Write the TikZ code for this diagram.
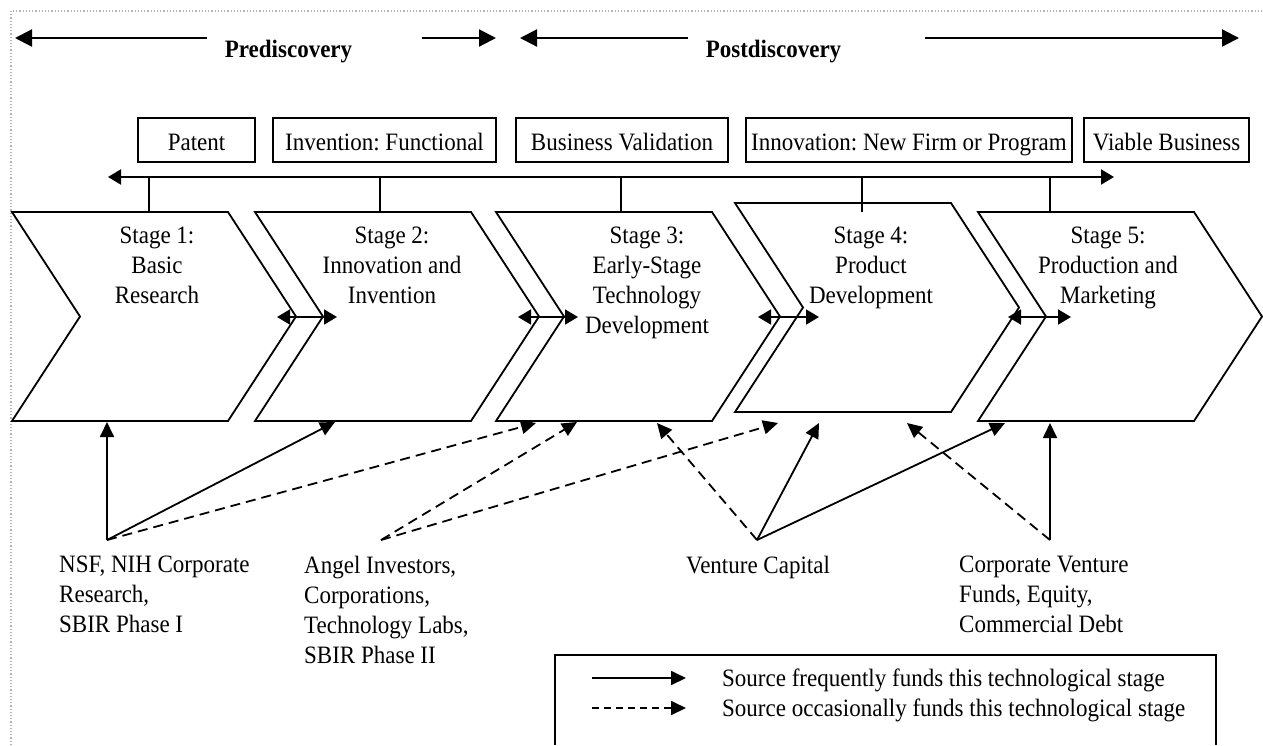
\documentclass[tikz,border=0pt]{standalone}
\usepackage{fontspec}
\setmainfont{Liberation Serif}[FakeStretch=0.92]
\usetikzlibrary{arrows.meta}
\frenchspacing
\newcommand\mychev[3]{%
  \draw[chev] (#1,#2) -- ++(216,0) -- ++(68,{(#3-#2)/2}) -- ++(-68,{(#3-#2)/2})
    -- ++(-216,0) -- ++(68,{-(#3-#2)/2}) -- cycle;}
\begin{document}
\begin{tikzpicture}[x=1pt,y=-1pt,
  font=\fontsize{25}{30}\selectfont,
  chev/.style={draw, line width=1.8pt, line join=miter},
  tip/.style={-{Triangle[length=15pt,width=14pt]}},
  fund/.style={line width=1.8pt, tip},
  occ/.style={fund, dash pattern=on 10pt off 6pt},
  dblarr/.style={line width=1.8pt, {Triangle[length=13pt,width=15pt]}-{Triangle[length=13pt,width=15pt]}},
  toparr/.style={line width=2.2pt, -{Triangle[length=17pt,width=17pt]}},
  tick/.style={line width=1.5pt},
  tag/.style={draw, line width=1.5pt, inner sep=0pt, minimum height=44pt, text height=20pt, text depth=0pt},
  stagetxt/.style={align=center, inner sep=0pt, anchor=north},
  srctxt/.style={align=left, inner sep=0pt, anchor=north west},
  frame/.style={gray!60, line width=1.2pt, dotted}
]
\useasboundingbox (0,0) rectangle (1263,745);

% frame
\coordinate (fTL) at (11,11);
\coordinate (fTR) at (1263,11);
\coordinate (fBL) at (11,745);
\draw[frame] (fBL) -- (fTL) -- (fTR);

% top phase arrows
\node[font=\fontsize{25}{30}\selectfont\bfseries, anchor=base, inner sep=0pt] (pre) at (288.5,57) {Prediscovery};
\node[font=\fontsize{25}{30}\selectfont\bfseries, anchor=base, inner sep=0pt] (post) at (773.5,57) {Postdiscovery};
\coordinate (preL) at (15,38);   \coordinate (preLs) at (207,38);
\coordinate (preRs) at (422,38); \coordinate (preR) at (496,38);
\coordinate (postL) at (520,38); \coordinate (postLs) at (688,38);
\coordinate (postRs) at (925,38);\coordinate (postR) at (1239,38);
\draw[toparr] (preLs) -- (preL);
\draw[toparr] (preRs) -- (preR);
\draw[toparr] (postLs) -- (postL);
\draw[toparr] (postRs) -- (postR);

% milestone boxes
\node[tag, minimum width=117pt] (patent) at (196.5,140) {Patent};
\node[tag, minimum width=223pt] (invent) at (384.5,140) {Invention: Functional};
\node[tag, minimum width=212pt] (bval) at (622,140) {Business Validation};
\node[tag, minimum width=326pt] (innov) at (909,140) {Innovation: New Firm or Program};
\node[tag, minimum width=165pt] (viable) at (1166.5,140) {Viable Business};

% timeline
\coordinate (tlL) at (108,177);
\coordinate (tlR) at (1114,177);
\draw[dblarr, line width=2pt] (tlL) -- (tlR);
\foreach \x/\n in {149/1,380/2,621/3,862/4,1050/5}{
  \coordinate (tk\n a) at (\x,177);
  \coordinate (tk\n b) at (\x,212);
  \draw[tick] (tk\n a) -- (tk\n b);
}

% chevrons
\mychev{12}{212}{421}
\mychev{255}{212}{421}
\mychev{496}{212}{421}
\mychev{735}{203}{412}
\mychev{978}{212}{421}

\node[stagetxt] (st1) at (157,227) {Stage 1:\\Basic\\Research};
\node[stagetxt] (st2) at (392,227) {Stage 2:\\Innovation and\\Invention};
\node[stagetxt] (st3) at (647,227) {Stage 3:\\Early-Stage\\Technology\\Development};
\node[stagetxt] (st4) at (871,227) {Stage 4:\\Product\\Development};
\node[stagetxt] (st5) at (1108,227) {Stage 5:\\Production and\\Marketing};

% links between stages
\coordinate (d12a) at (277,317);  \coordinate (d12b) at (337,317);
\coordinate (d23a) at (518,317);  \coordinate (d23b) at (578,317);
\coordinate (d34a) at (758,317);  \coordinate (d34b) at (819,317);
\coordinate (d45a) at (1008,317); \coordinate (d45b) at (1071,317);
\draw[dblarr] (d12a) -- (d12b);
\draw[dblarr] (d23a) -- (d23b);
\draw[dblarr] (d34a) -- (d34b);
\draw[dblarr] (d45a) -- (d45b);

% funding sources
\coordinate (nsf) at (107,540);
\coordinate (angel) at (381,540);
\coordinate (vc) at (757,540);
\coordinate (corp) at (1050,540);

\coordinate (s1a) at (107,422);
\coordinate (s2a) at (335,422);
\coordinate (s3a) at (536,423);
\coordinate (s3b) at (577,422);
\coordinate (s3c) at (657,423);
\coordinate (s4a) at (778,423);
\coordinate (s4b) at (819,423);
\coordinate (s4c) at (907,423);
\coordinate (s5a) at (1005,423);
\coordinate (s5b) at (1050,423);

\draw[fund] (nsf) -- (s1a);
\draw[fund] (nsf) -- (s2a);
\draw[occ] (nsf) -- (s3a);
\draw[occ] (angel) -- (s3b);
\draw[occ] (angel) -- (s4a);
\draw[occ] (vc) -- (s3c);
\draw[fund] (vc) -- (s4b);
\draw[fund] (vc) -- (s5a);
\draw[occ] (corp) -- (s4c);
\draw[fund] (corp) -- (s5b);

\node[srctxt] (nsfT) at (59,556) {NSF, NIH Corporate\\Research,\\SBIR Phase I};
\node[srctxt] (angelT) at (304,556) {Angel Investors,\\Corporations,\\Technology Labs,\\SBIR Phase II};
\node[srctxt] (vcT) at (686,556) {Venture Capital};
\node[srctxt] (corpT) at (959,556) {Corporate Venture\\Funds, Equity,\\Commercial Debt};

% legend
\coordinate (lgBL) at (555,745);
\coordinate (lgTL) at (555,655);
\coordinate (lgTR) at (1216,655);
\coordinate (lgBR) at (1216,745);
\draw[line width=1.5pt] (lgBL) -- (lgTL) -- (lgTR) -- (lgBR);
\coordinate (lg1a) at (592,678); \coordinate (lg1b) at (686,678);
\coordinate (lg2a) at (592,708); \coordinate (lg2b) at (686,708);
\draw[fund] (lg1a) -- (lg1b);
\draw[fund, dash pattern=on 7pt off 5pt] (lg2a) -- (lg2b);
\node[anchor=base west, inner sep=0pt] (lgT1) at (722,686) {Source frequently funds this technological stage};
\node[anchor=base west, inner sep=0pt] (lgT2) at (722,716) {Source occasionally funds this technological stage};
\end{tikzpicture}
\end{document}
